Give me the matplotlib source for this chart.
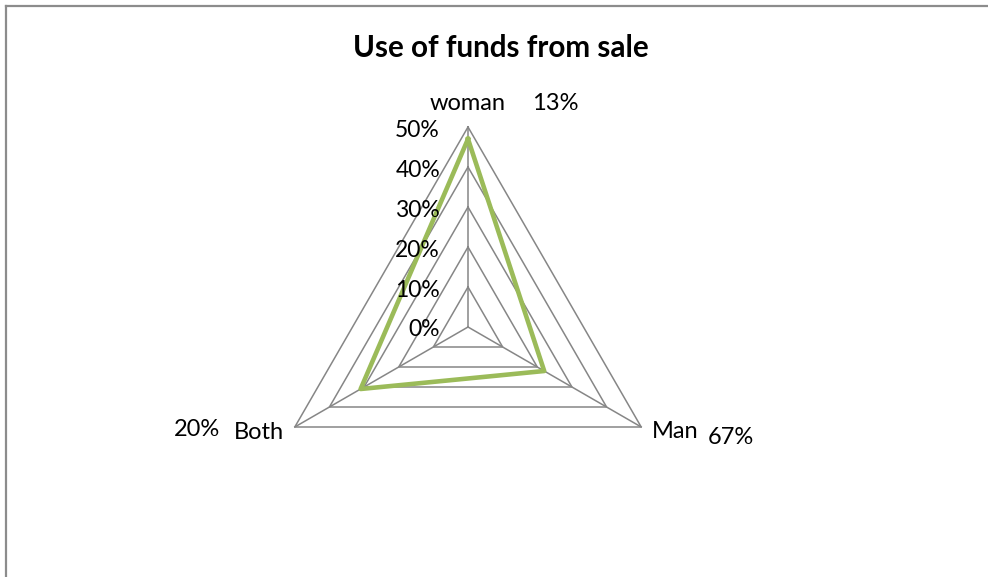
import numpy as np
import matplotlib
matplotlib.use('Agg')
import matplotlib.pyplot as plt
from matplotlib.lines import Line2D

# chart data
categories = ['woman', 'Man', 'Both']
shares = ['13%', '67%', '20%']
values = [47, 22, 31]
rings = [10, 20, 30, 40, 50]
ring_labels = ['0%', '10%', '20%', '30%', '40%', '50%']

GRID = '#868686'
GREEN = '#9BBB59'
plt.rcParams['font.family'] = ['Lato', 'DejaVu Sans']

W, H = 988, 577
fig = plt.figure(figsize=(W / 100, H / 100), dpi=100)

# axes in percent units, 4 px per percent, centre at (468, 327) px
cx, cy, ppu, half = 468, H - 327, 4.0, 60
ax = fig.add_axes([(cx - half * ppu) / W, (cy - half * ppu) / H,
                   2 * half * ppu / W, 2 * half * ppu / H])
ax.set_xlim(-half, half)
ax.set_ylim(-half, half)
ax.axis('off')

# spokes clockwise from the top
theta = np.arange(len(categories)) * 2 * np.pi / len(categories)
sx, sy = np.sin(theta), np.cos(theta)


def closed(r):
    r = np.asarray(r, dtype=float)
    x, y = r * sx, r * sy
    return np.append(x, x[0]), np.append(y, y[0])


for r in rings:
    ax.plot(*closed([r] * len(categories)), color=GRID, lw=1.1, zorder=1)
for i in range(len(categories)):
    ax.plot([0, rings[-1] * sx[i]], [0, rings[-1] * sy[i]], color=GRID, lw=1.1, zorder=1)

# radial value labels along the top spoke
for k, lab in enumerate(ring_labels):
    ax.annotate(lab, xy=(0, k * 10), xytext=(-28, -3), textcoords='offset pixels',
                ha='right', va='center', fontsize=16.5, color='black', zorder=3)

ax.plot(*closed(values), color=GREEN, lw=3.3, solid_joinstyle='round', zorder=2)

# category names with their share next to each spoke end
name_off = [((0, 24), 'center'), ((11, -5), 'left'), ((-11, -5), 'right')]
share_off = [((64, 24), 'left'), ((67, -11), 'left'), ((-75, -2), 'right')]
for i, (name, share) in enumerate(zip(categories, shares)):
    tip = (rings[-1] * sx[i], rings[-1] * sy[i])
    (ox, oy), ha = name_off[i]
    ax.annotate(name, xy=tip, xytext=(ox, oy), textcoords='offset pixels',
                ha=ha, va='center', fontsize=17, annotation_clip=False)
    (ox, oy), ha = share_off[i]
    ax.annotate(share, xy=tip, xytext=(ox, oy), textcoords='offset pixels',
                ha=ha, va='center', fontsize=17, annotation_clip=False)

fig.text(501 / W, 1 - 48 / H, 'Use of funds from sale', ha='center', va='center',
         fontsize=21.3, fontweight='bold')

# chart frame (top and left edges)
fig.add_artist(Line2D([6 / W, 1], [1 - 6 / H, 1 - 6 / H], transform=fig.transFigure,
                      color='#8c8c8c', lw=1.6))
fig.add_artist(Line2D([6 / W, 6 / W], [0, 1 - 6 / H], transform=fig.transFigure,
                      color='#8c8c8c', lw=1.6))

fig.savefig('out.png', dpi=100)
